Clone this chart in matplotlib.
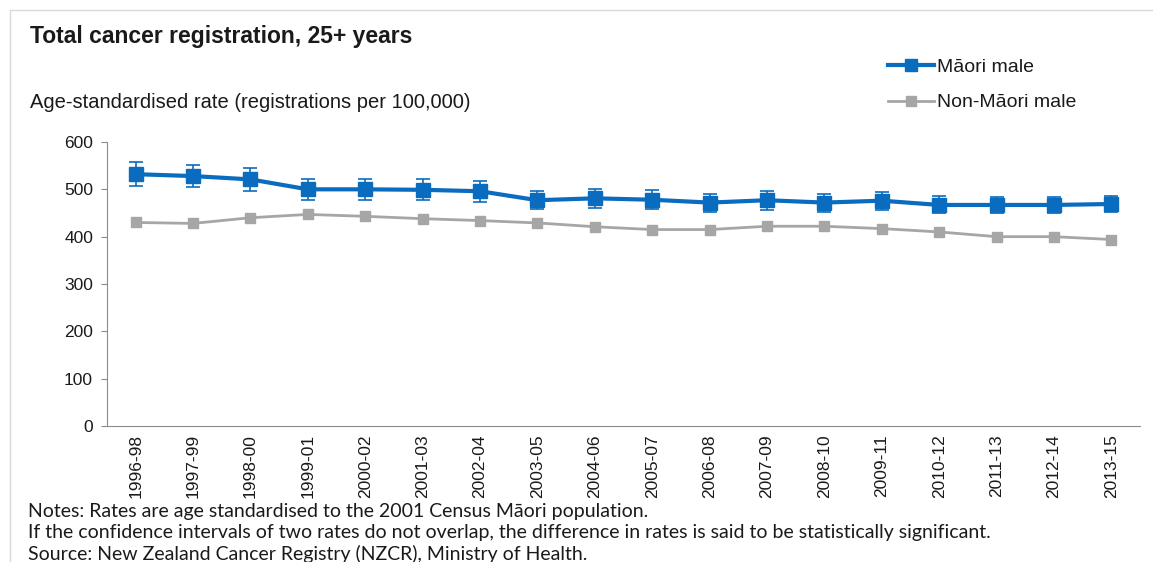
import matplotlib.pyplot as plt
from matplotlib.lines import Line2D
from matplotlib.patches import Rectangle

periods = ["1996-98", "1997-99", "1998-00", "1999-01", "2000-02", "2001-03",
           "2002-04", "2003-05", "2004-06", "2005-07", "2006-08", "2007-09",
           "2008-10", "2009-11", "2010-12", "2011-13", "2012-14", "2013-15"]
maori_male = [532, 528, 521, 500, 500, 499, 496, 477, 481, 478, 472, 477,
              472, 476, 467, 467, 467, 469]
maori_ci = [25, 24, 25, 22, 22, 22, 22, 19, 20, 20, 19, 20,
            19, 19, 18, 17, 17, 17]
non_maori_male = [430, 428, 440, 447, 443, 438, 434, 429, 421, 415, 415, 422,
                  422, 417, 410, 400, 400, 394]

BLUE = "#0a6cbf"
GREY = "#a6a6a6"
TXT = "#1a1a1a"

fig = plt.figure(figsize=(11.53, 5.62), dpi=100)
W, H = 1153, 562

# light frame round the chart
fig.patches.append(Rectangle((10 / W, -0.1), 1.2, 1 - 10 / H + 0.1,
                             transform=fig.transFigure, fill=False,
                             edgecolor="#d9d9d9", linewidth=1))

ax = fig.add_axes([107 / W, 1 - 426 / H, (1140 - 107) / W, (426 - 142) / H])
x = range(len(periods))

ax.plot(x, non_maori_male, color=GREY, lw=2, marker="s", ms=6.5, zorder=2)
ax.errorbar(x, maori_male, yerr=maori_ci, color=BLUE, lw=3, marker="s",
            ms=10, ecolor=BLUE, elinewidth=1.2, capsize=5, capthick=1.2,
            zorder=3)

ax.set_xlim(-0.5, len(periods) - 0.5)
ax.set_ylim(0, 600)
ax.set_yticks(range(0, 601, 100))
ax.set_xticks(list(x))
ax.set_xticklabels(periods, rotation=90, fontsize=12.5,
                   family="Liberation Sans", color=TXT)
for lab in ax.get_yticklabels():
    lab.set_fontsize(12.5)
    lab.set_family("Liberation Sans")
    lab.set_color(TXT)
ax.tick_params(axis="x", length=0, pad=6)
ax.tick_params(axis="y", length=4, color="#8c8c8c", pad=6)
for s in ["top", "right"]:
    ax.spines[s].set_visible(False)
for s in ["left", "bottom"]:
    ax.spines[s].set_color("#8c8c8c")

# legend keys without the error bars
handles = [Line2D([], [], color=BLUE, lw=3, marker="s", ms=8),
           Line2D([], [], color=GREY, lw=2, marker="s", ms=6.5)]
labels = ["M\u0101ori male", "Non-M\u0101ori male"]
leg = fig.legend(handles, labels, loc="upper left",
                 bbox_to_anchor=(874 / W, 1 - 45 / H), frameon=False,
                 handlelength=2.4, handletextpad=0.15, labelspacing=0.9,
                 borderpad=0.2, prop={"family": "Liberation Sans", "size": 14})
for t in leg.get_texts():
    t.set_color(TXT)

fig.text(30 / W, 1 - 37 / H, "Total cancer registration, 25+ years",
         fontsize=16.5, fontweight="bold", family="Liberation Sans",
         va="center", color=TXT)
fig.text(30 / W, 1 - 102 / H,
         "Age-standardised rate (registrations per 100,000)",
         fontsize=14.5, family="Liberation Sans", va="center", color=TXT)

notes = ["Notes: Rates are age standardised to the 2001 Census M\u0101ori population.",
         "If the confidence intervals of two rates do not overlap, the difference in rates is said to be statistically significant.",
         "Source: New Zealand Cancer Registry (NZCR), Ministry of Health."]
for i, line in enumerate(notes):
    fig.text(28 / W, 1 - (511 + 21.5 * i) / H, line, fontsize=14,
             family="Lato", va="center", color=TXT)

fig.savefig("out.png", dpi=100)
